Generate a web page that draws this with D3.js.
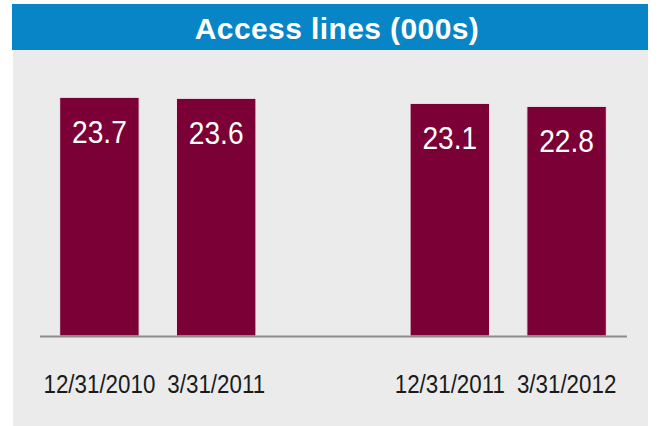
<!DOCTYPE html>
<html>
<head>
<meta charset="utf-8">
<script src="https://cdn.jsdelivr.net/npm/d3@7"></script>
<style>
  body { margin: 0; background: #fff; }
  svg { display: block; }
</style>
</head>
<body>
<script>
var width = 659,
    height = 426;

// chart data
var title = "Access lines (000s)";
var dates = ["12/31/2010", "3/31/2011", "", "12/31/2011", "3/31/2012"];
var lines = [23.7, 23.6, null, 23.1, 22.8];

var svg = d3.select("body").append("svg")
    .attr("width", width)
    .attr("height", height);

// grey panel + blue header
svg.append("rect")
    .attr("x", 13).attr("y", 48)
    .attr("width", 635).attr("height", height - 48)
    .style("fill", "#ebebeb");

svg.append("rect")
    .attr("x", 12).attr("y", 4)
    .attr("width", 636).attr("height", 46)
    .style("fill", "#0885c7");

svg.append("text")
    .attr("x", 337)
    .attr("y", 39)
    .attr("text-anchor", "middle")
    .style("font-family", "'Liberation Sans', Arial, sans-serif")
    .style("font-weight", "bold")
    .style("font-size", "30px")
    .style("letter-spacing", "0.4px")
    .style("fill", "#fff")
    .text(title);

var x = d3.scaleBand()
    .domain(dates)
    .range([41, 625])
    .paddingInner(0.32)
    .paddingOuter(0.16);

var y = d3.scaleLinear()
    .domain([0, 25])
    .range([336, 336 - 25 * 10.07]);

var data = dates.map(function(d, i) { return { date: d, value: lines[i] }; })
    .filter(function(d) { return d.value != null; });

svg.selectAll(".bar")
    .data(data)
    .enter().append("rect")
    .attr("class", "bar")
    .attr("x", function(d) { return x(d.date); })
    .attr("y", function(d) { return y(d.value); })
    .attr("width", x.bandwidth())
    .attr("height", function(d) { return y(0) - y(d.value); })
    .style("fill", "#7b0036")
    .style("stroke", "#f6e4ea")
    .style("stroke-width", 1);

// baseline
svg.append("line")
    .attr("x1", 40).attr("x2", 627)
    .attr("y1", y(0) + 0.5).attr("y2", y(0) + 0.5)
    .style("stroke", "#8c8c8c")
    .style("stroke-width", 2);

// the original font is a narrow one, so squeeze Liberation Sans a bit
var font = "'Liberation Sans', Arial, sans-serif";
function cx(d) { return x(d.date) + x.bandwidth() / 2; }

svg.selectAll(".val")
    .data(data)
    .enter().append("text")
    .attr("class", "val")
    .attr("transform", function(d) {
        return "translate(" + cx(d) + "," + (y(d.value) + 46) + ") scale(0.88,1)";
    })
    .attr("text-anchor", "middle")
    .style("font-family", font)
    .style("font-size", "32px")
    .style("fill", "#fff")
    .text(function(d) { return d.value.toFixed(1); });

svg.selectAll(".lbl")
    .data(data)
    .enter().append("text")
    .attr("class", "lbl")
    .attr("transform", function(d) { return "translate(" + cx(d) + ",393) scale(0.86,1)"; })
    .attr("text-anchor", "middle")
    .style("font-family", font)
    .style("font-size", "26px")
    .style("fill", "#1a1a1a")
    .text(function(d) { return d.date; });
</script>
</body>
</html>
